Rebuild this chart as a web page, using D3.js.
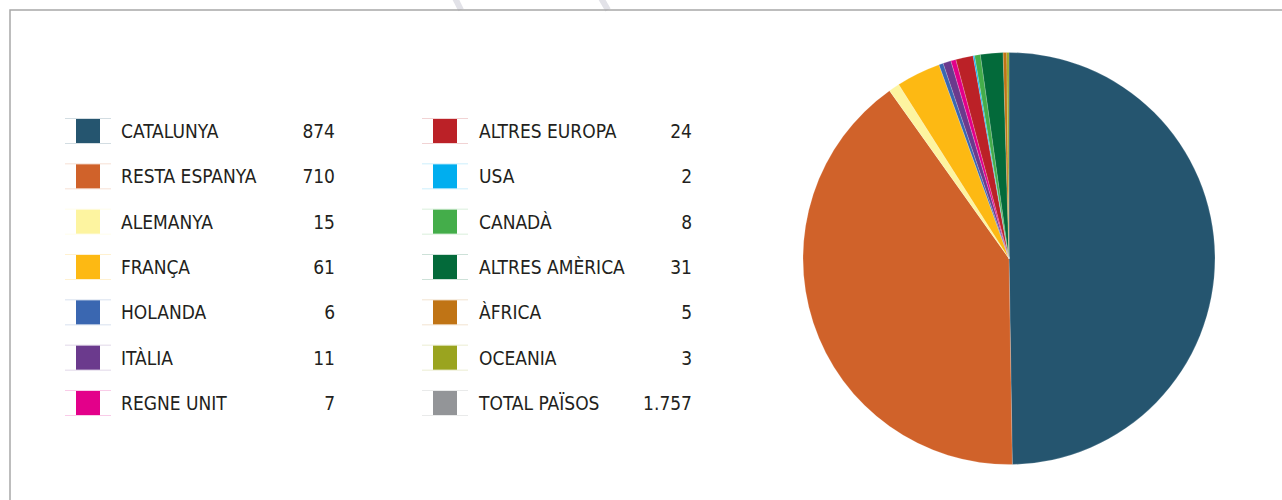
<!DOCTYPE html>
<html>
<head>
<meta charset="utf-8">
<script src="https://cdn.jsdelivr.net/npm/d3@7"></script>
<style>
    html, body { margin: 0; padding: 0; background: #fff; }
    svg { display: block; }
</style>
</head>
<body>
<div id="chart"></div>
<script>
/* Pie chart: origin by country, with two-column legend */

const categories = ["CATALUNYA", "RESTA ESPANYA", "ALEMANYA", "FRANÇA", "HOLANDA", "ITÀLIA", "REGNE UNIT",
                    "ALTRES EUROPA", "USA", "CANADÀ", "ALTRES AMÈRICA", "ÀFRICA", "OCEANIA"];
const values = [874, 710, 15, 61, 6, 11, 7, 24, 2, 8, 31, 5, 3];
const colors = ["#25556f", "#d0622a", "#fdf4a0", "#fdb913", "#3a67b1", "#6b3a8d", "#e3008a",
                "#bb2127", "#00aeef", "#44ad4a", "#036a3a", "#c07415", "#9aa41f"];
const totalLabel = "TOTAL PAÏSOS";
const totalValue = 1757;
const totalColor = "#939598";

const width = 1282;
const height = 500;

const svg = d3.select("#chart").append("svg")
    .attr("width", width)
    .attr("height", height);

// faint watermark strokes above the frame
svg.selectAll(".wm")
    .data([[455, 461], [601, 608]])
    .enter()
    .append("line")
    .attr("x1", d => d[0]).attr("y1", -2)
    .attr("x2", d => d[1]).attr("y2", 10)
    .attr("stroke", "#e2e2e8")
    .attr("stroke-width", 6);

// frame (top and left edges only visible)
svg.append("path")
    .attr("d", `M10,${height + 5} L10,10 L${width + 5},10`)
    .attr("fill", "none")
    .attr("stroke", "#a8a8a8")
    .attr("stroke-width", 1.5);

// Legend
const fmt = d3.formatLocale({ decimal: ",", thousands: ".", grouping: [3], currency: ["", "€"] }).format(",d");

const legendItems = categories.map((c, i) => ({ label: c, value: values[i], color: colors[i] }));
legendItems.push({ label: totalLabel, value: totalValue, color: totalColor });

const rowY = d3.scalePoint()
    .domain(d3.range(7))
    .range([131, 403]);

const columns = [
    { swatchX: 76, textX: 121, valueX: 335 },
    { swatchX: 433, textX: 479, valueX: 692 }
];

const font = "'Liberation Sans Narrow', 'DejaVu Sans Condensed', 'Arial Narrow', sans-serif";

const rows = svg.append("g").attr("class", "legend")
    .selectAll(".row")
    .data(legendItems)
    .enter()
    .append("g")
    .attr("class", "row")
    .attr("transform", (d, i) => `translate(0, ${rowY(i % 7)})`);

rows.each(function(d, i) {
    const col = columns[Math.floor(i / 7)];
    const g = d3.select(this);
    const tint = d3.interpolateRgb(d.color, "#ffffff")(0.8);

    // thin tinted rules above and below the swatch
    [-12.5, 12.5].forEach(dy => {
        g.append("line")
            .attr("x1", col.swatchX - 11).attr("x2", col.swatchX + 35)
            .attr("y1", dy).attr("y2", dy)
            .attr("stroke", tint)
            .attr("stroke-width", 1);
    });

    g.append("rect")
        .attr("x", col.swatchX)
        .attr("y", -12)
        .attr("width", 24)
        .attr("height", 24)
        .attr("fill", d.color);

    g.append("text")
        .attr("x", col.textX)
        .attr("dy", "0.36em")
        .style("font-family", font)
        .style("font-size", "19px")
        .style("fill", "#231f20")
        .text(d.label);

    g.append("text")
        .attr("x", col.valueX)
        .attr("dy", "0.36em")
        .attr("text-anchor", "end")
        .style("font-family", font)
        .style("font-size", "19px")
        .style("fill", "#231f20")
        .text(fmt(d.value));
});

// Pie
const radius = 206;
const pie = d3.pie().value(d => d).sort(null);
const arc = d3.arc().innerRadius(0).outerRadius(radius);

const pieGroup = svg.append("g")
    .attr("transform", `translate(1009, 258.5)`);

pieGroup.selectAll(".slice")
    .data(pie(values))
    .enter()
    .append("path")
    .attr("class", "slice")
    .attr("d", arc)
    .attr("fill", (d, i) => colors[i])
    .attr("stroke", "#ffffff")
    .attr("stroke-opacity", 0.35)
    .attr("stroke-width", 0.5);
</script>
</body>
</html>
